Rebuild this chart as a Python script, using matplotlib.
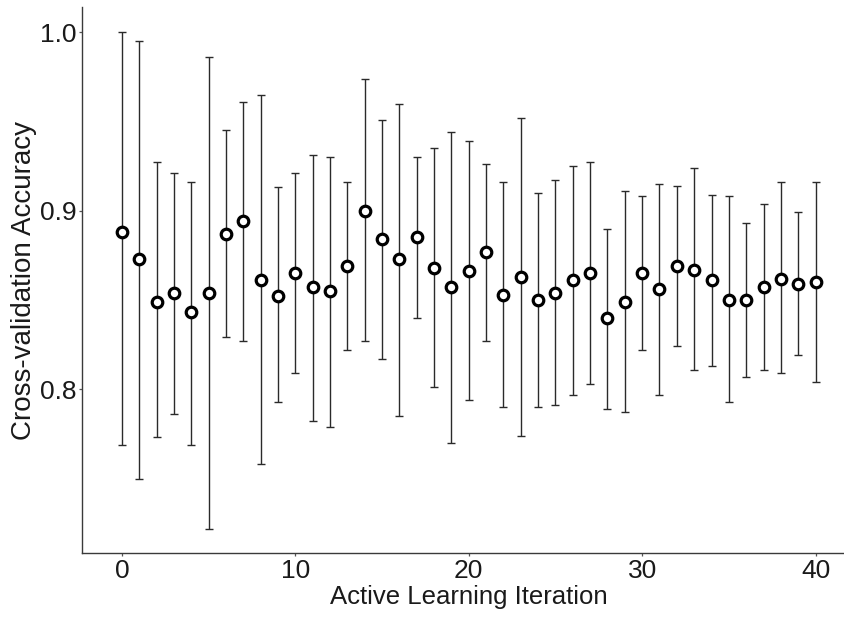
import matplotlib
matplotlib.use("Agg")
import matplotlib.pyplot as plt
import numpy as np

# values
iteration = list(range(41))
accuracy = [0.888, 0.873, 0.849, 0.854, 0.843, 0.854, 0.887, 0.894, 0.861, 0.852,
            0.865, 0.857, 0.855, 0.869, 0.900, 0.884, 0.873, 0.885, 0.868, 0.857,
            0.866, 0.877, 0.853, 0.863, 0.850, 0.854, 0.861, 0.865, 0.840, 0.849,
            0.865, 0.856, 0.869, 0.867, 0.861, 0.850, 0.850, 0.857, 0.862, 0.859,
            0.860]
acc_low = [0.769, 0.750, 0.773, 0.786, 0.769, 0.722, 0.829, 0.827, 0.758, 0.793,
           0.809, 0.782, 0.779, 0.822, 0.827, 0.817, 0.785, 0.840, 0.801, 0.770,
           0.794, 0.827, 0.790, 0.774, 0.790, 0.791, 0.797, 0.803, 0.789, 0.787,
           0.822, 0.797, 0.824, 0.811, 0.813, 0.793, 0.807, 0.811, 0.809, 0.819,
           0.804]
acc_high = [1.000, 0.995, 0.927, 0.921, 0.916, 0.986, 0.945, 0.961, 0.965, 0.913,
            0.921, 0.931, 0.930, 0.916, 0.974, 0.951, 0.960, 0.930, 0.935, 0.944,
            0.939, 0.926, 0.916, 0.952, 0.910, 0.917, 0.925, 0.927, 0.890, 0.911,
            0.908, 0.915, 0.914, 0.924, 0.909, 0.908, 0.893, 0.904, 0.916, 0.899,
            0.916]

plt.rcParams['font.family'] = ['Liberation Sans', 'DejaVu Sans']

x = np.array(iteration)
y = np.array(accuracy)
yerr = [y - np.array(acc_low), np.array(acc_high) - y]

fig = plt.figure(figsize=(8.45, 6.21), dpi=100)
ax = fig.add_axes([82.5 / 845, 1 - 553 / 621, (855 - 82.5) / 845, (553 - 7.3) / 621])

ax.errorbar(x, y, yerr=yerr, fmt='none', ecolor='#2a2a2a', elinewidth=1.0,
            capsize=2.6, capthick=1.0, zorder=2)
ax.plot(x, y, 'o', ms=7.6, mfc='white', mec='black', mew=2.3, zorder=3)

ax.set_xlim(-2.275, 42.275)
ax.set_ylim(0.7083, 1.0139)
ax.set_xticks([0, 10, 20, 30, 40])
ax.set_yticks([0.8, 0.9, 1.0])
ax.set_yticklabels(['0.8', '0.9', '1.0'])

for side in ['top', 'right']:
    ax.spines[side].set_visible(False)
for side in ['left', 'bottom']:
    ax.spines[side].set_color('#3a3a3a')
    ax.spines[side].set_linewidth(1.0)

ax.tick_params(axis='both', length=2.5, width=0.9, color='#555555', pad=2,
               labelsize=19, labelcolor='#1a1a1a')

ax.set_xlabel('Active Learning Iteration', fontsize=18.5, color='#1a1a1a', labelpad=1)
ax.set_ylabel('Cross-validation Accuracy', fontsize=20, color='#1a1a1a', labelpad=2)

plt.savefig('out.png', dpi=100)
